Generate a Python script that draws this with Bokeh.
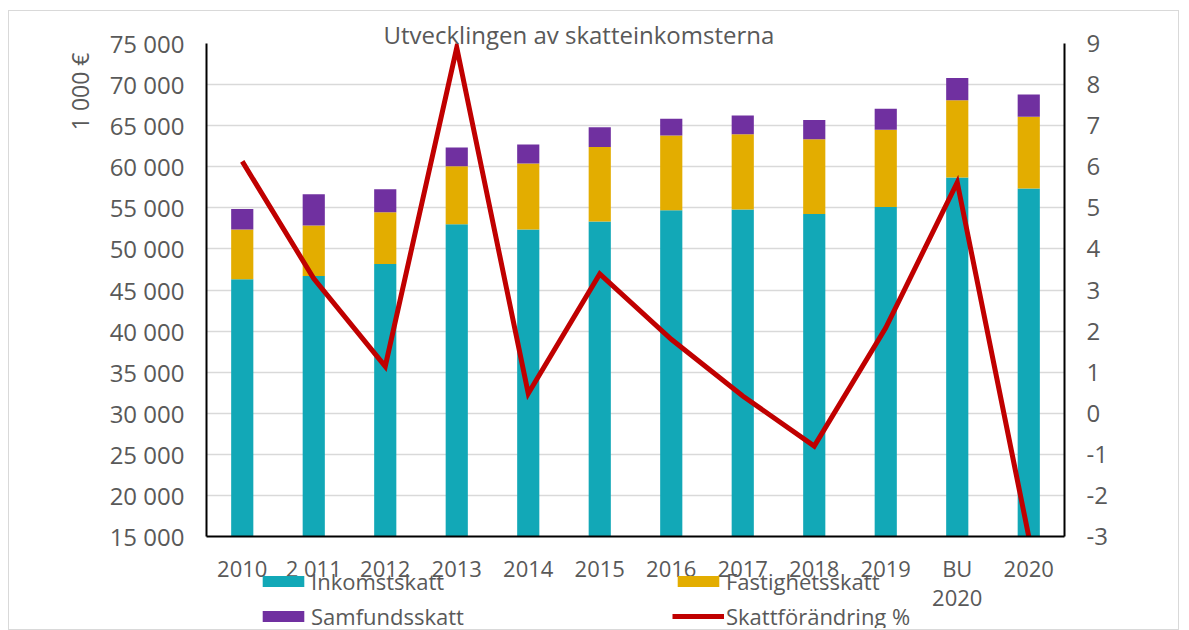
from bokeh.plotting import figure
from bokeh.layouts import column
from bokeh.models import (FactorRange, Range1d, LinearAxis, FixedTicker, Title,
                          Legend, LegendItem)
from bokeh.embed import file_html
from bokeh.resources import INLINE

# ---- data ----
categories = ["2010", "2 011", "2012", "2013", "2014", "2015", "2016", "2017",
              "2018", "2019", "BU\n2020", "2020"]
inkomstskatt = [46300, 46700, 48150, 53000, 52350, 53350, 54700, 54800, 54250,
                55100, 58700, 57350]
fastighetsskatt = [6050, 6150, 6300, 7050, 8050, 9050, 9100, 9150, 9100, 9400,
                   9400, 8750]
samfundsskatt = [2500, 3800, 2800, 2300, 2300, 2400, 2050, 2300, 2350, 2550,
                 2700, 2700]
skattforandring = [6.13, 3.28, 1.14, 8.9, 0.48, 3.39, 1.8, 0.42, -0.8, 2.08,
                   5.62, -3.0]
series_names = ["Inkomstskatt", "Fastighetsskatt", "Samfundsskatt",
                "Skattförändring %"]
left_ticks = list(range(15000, 75001, 5000))
right_ticks = list(range(-3, 10))

FONT = "Open Sans"
GREY = "#595959"
TEAL = "#12A8B7"
GOLD = "#E3AD00"
PURPLE = "#7030A0"
RED = "#C00000"

data = dict(cat=categories, ink=inkomstskatt, fast=fastighetsskatt,
            samf=samfundsskatt, pct=skattforandring)

BL, BR = 197, 116

p = figure(width=1171, height=620, x_range=FactorRange(*categories, range_padding=0),
           y_range=Range1d(15000, 75000), output_backend="svg",
           toolbar_location=None, min_border_left=BL, min_border_right=BR,
           min_border_top=32, min_border_bottom=95)
p.styles = {"border": "1px solid #d9d9d9", "margin-left": "8px", "margin-top": "10px"}
p.outline_line_color = None
p.background_fill_color = "white"
p.border_fill_color = "white"

bars = p.vbar_stack(["ink", "fast", "samf"], x="cat", width=0.31, source=data,
                    color=[TEAL, GOLD, PURPLE], line_color=None)

p.extra_y_ranges = {"pct": Range1d(-3, 9)}
line = p.line(x="cat", y="pct", source=data, y_range_name="pct",
              line_color=RED, line_width=5, line_join="miter")

# grid
p.xgrid.grid_line_color = None
p.ygrid.grid_line_color = "#D9D9D9"
p.ygrid.grid_line_width = 1.5

# left axis
ly = p.yaxis[0]
ly.ticker = FixedTicker(ticks=left_ticks)
ly.major_label_overrides = {t: f"{t:,}".replace(",", " ") for t in left_ticks}

# right axis
ry = LinearAxis(y_range_name="pct", ticker=FixedTicker(ticks=right_ticks))
ry.major_label_overrides = {t: str(t) for t in right_ticks}
p.add_layout(ry, "right")

for ax in [p.xaxis[0], ly, ry]:
    ax.axis_line_color = "black"
    ax.axis_line_width = 2
    ax.major_tick_line_color = None
    ax.minor_tick_line_color = None
    ax.major_tick_out = 0
    ax.major_tick_in = 0
    ax.major_label_text_font = FONT
    ax.major_label_text_color = GREY
    ax.major_label_text_font_size = "24px"
ly.major_label_standoff = 22
ry.major_label_standoff = 22
xa = p.xaxis[0]
xa.major_label_standoff = 16
xa.major_label_text_font_size = "22px"
xa.major_label_text_line_height = 0.97

# title and y-axis label
p.add_layout(Title(text="Utvecklingen av skatteinkomsterna", align="left",
                   offset=177, vertical_align="bottom", standoff=-15,
                   text_font=FONT, text_font_size="24px",
                   text_font_style="normal", text_color=GREY), "above")
p.add_layout(Title(text="1 000 €", align="right", offset=9,
                   vertical_align="middle", standoff=20,
                   text_font=FONT, text_font_size="23px",
                   text_font_style="normal", text_color=GREY), "left")

# ---- legend, drawn in a transparent strip overlapping the chart's bottom ----
lg = figure(width=1171, height=62, output_backend="svg", toolbar_location=None,
            x_range=Range1d(0, 1), y_range=Range1d(0, 1),
            x_axis_location=None, y_axis_location=None,
            min_border_left=BL, min_border_right=BR, min_border_top=0,
            min_border_bottom=0)
lg.styles = {"margin-left": "9px", "margin-top": "-64px"}
lg.grid.visible = False
lg.outline_line_color = None
lg.background_fill_color = None
lg.border_fill_color = None
# off-screen stand-ins that only supply the legend swatches
r_ink = lg.vbar(x=[-10], top=[-10], width=0.3, color=TEAL, line_color=None)
r_fast = lg.vbar(x=[-10], top=[-10], width=0.3, color=GOLD, line_color=None)
r_samf = lg.vbar(x=[-10], top=[-10], width=0.3, color=PURPLE, line_color=None)
r_pct = lg.line(x=[-10, -9], y=[-10, -10], line_color=RED, line_width=5)

legend = Legend(items=[
    LegendItem(label=series_names[0], renderers=[r_ink]),
    LegendItem(label=series_names[1], renderers=[r_fast]),
    LegendItem(label=series_names[2], renderers=[r_samf]),
    LegendItem(label=series_names[3], renderers=[r_pct]),
], location=(51, -3), orientation="horizontal", ncols=2,
    glyph_width=52, glyph_height=14, label_standoff=2, label_width=356,
    spacing=5, padding=0, margin=0, border_line_color=None,
    background_fill_alpha=0, label_text_font=FONT, label_text_font_size="22px",
    label_text_color=GREY)
lg.add_layout(legend, "center")

layout = column(p, lg)
open("out.html", "w").write(file_html(layout, INLINE))
